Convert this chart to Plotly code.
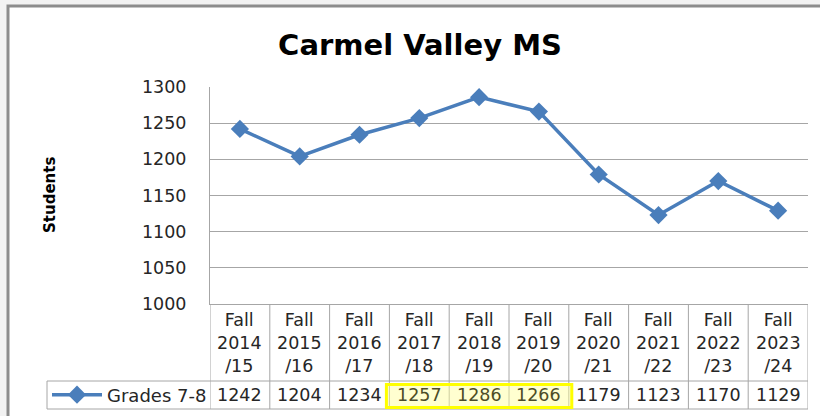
import plotly.graph_objects as go

# Дані
categories = ["Fall 2014/15", "Fall 2015/16", "Fall 2016/17", "Fall 2017/18", "Fall 2018/19",
              "Fall 2019/20", "Fall 2020/21", "Fall 2021/22", "Fall 2022/23", "Fall 2023/24"]
students = [1242, 1204, 1234, 1257, 1286, 1266, 1179, 1123, 1170, 1129]
highlighted = ["Fall 2017/18", "Fall 2018/19", "Fall 2019/20"]
y_ticks = [1000, 1050, 1100, 1150, 1200, 1250, 1300]
series_name = "Grades 7-8"

W, H = 820, 416
L, R, T, B = 210, 12, 87, 112
pw, ph = W - L - R, H - T - B
FONT = "DejaVu Sans"
BLUE = "#4A7EBB"
GRID = "#a6a6a6"
TXT = "#262626"


# перетворення пікселів у координати paper
def px_x(x):
    return (x - L) / pw


def px_y(y):
    return (H - B - y) / ph


n = len(categories)
fig = go.Figure()

fig.add_trace(go.Scatter(x=categories, y=students, mode='lines+markers', name=series_name,
                         line=dict(color=BLUE, width=3.5),
                         marker=dict(symbol='diamond', size=14, color=BLUE)))

# рамка всього графіка
fig.add_shape(type='rect', xref='paper', yref='paper', x0=px_x(8), x1=px_x(840), y0=px_y(440), y1=px_y(6),
              line=dict(color='#8c8c8c', width=3), fillcolor='white', layer='below')

# таблиця даних під віссю
row_top, row_bottom = px_y(381), px_y(409)
for i in range(n + 1):
    fig.add_shape(type='line', xref='x', yref='paper', x0=i - 0.5, x1=i - 0.5, y0=row_bottom, y1=0,
                  line=dict(color=GRID, width=1))
for yy in (row_top, row_bottom):
    fig.add_shape(type='line', xref='paper', yref='paper', x0=px_x(47), x1=1, y0=yy, y1=yy,
                  line=dict(color=GRID, width=1))
fig.add_shape(type='line', xref='paper', yref='paper', x0=px_x(47), x1=px_x(47), y0=row_bottom, y1=row_top,
              line=dict(color=GRID, width=1))

for cat, v in zip(categories, students):
    season, years = cat.split(' ')
    start, end = years.split('/')
    fig.add_annotation(x=cat, y=px_y(343), xref='x', yref='paper', text=f"{season}<br>{start}<br>/{end}",
                       showarrow=False, font=dict(family=FONT, size=17.5, color=TXT), yanchor='middle')
    color = '#4d4d26' if cat in highlighted else TXT
    fig.add_annotation(x=cat, y=px_y(395), xref='x', yref='paper', text=str(v), showarrow=False,
                       font=dict(family=FONT, size=17.5, color=color), yanchor='middle')

# жовте виділення
hi = [categories.index(c) for c in highlighted]
fig.add_shape(type='rect', xref='x', yref='paper', x0=min(hi) - 0.55, x1=max(hi) + 0.55,
              y0=px_y(407.5), y1=px_y(384.5), line=dict(color='#FFFF00', width=3),
              fillcolor='rgba(255,255,150,0.45)')

# підпис осі Y
fig.add_annotation(x=px_x(50), y=px_y(195), xref='paper', yref='paper', text='<b>Students</b>',
                   textangle=-90, showarrow=False, xanchor='center', yanchor='middle',
                   font=dict(family=FONT, size=15, color='black'))

fig.update_layout(
    width=W, height=H, margin=dict(l=L, r=R, t=T, b=B, autoexpand=False),
    paper_bgcolor='#f2f2f2', plot_bgcolor='white',
    title=dict(text='<b>Carmel Valley MS</b>', x=px_x(420), xanchor='center', xref='paper',
               y=1 - 45 / H, yanchor='middle', yref='container',
               font=dict(family=FONT, size=29, color='black')),
    font=dict(family=FONT, size=17.5, color=TXT),
    showlegend=True,
    legend=dict(x=px_x(47), y=px_y(395), xanchor='left', yanchor='middle', bgcolor='rgba(0,0,0,0)',
                font=dict(family=FONT, size=18, color=TXT), itemwidth=50),
)
fig.update_xaxes(type='category', range=[-0.5, n - 0.5], showticklabels=False, showgrid=False,
                 showline=True, linecolor=GRID, linewidth=1, zeroline=False)
fig.update_yaxes(range=[1000, 1300], tickvals=y_ticks, showgrid=True, gridcolor=GRID, gridwidth=1,
                 showline=True, linecolor=GRID, linewidth=1, zeroline=False, ticks='',
                 ticklabelstandoff=19, tickfont=dict(family=FONT, size=17.5, color=TXT))

# прибираємо стандартний відступ сторінки, щоб фігура стояла в куті вікна
fig.write_html("out.html", config={'displayModeBar': False},
               post_script="document.body.style.margin='0';")
